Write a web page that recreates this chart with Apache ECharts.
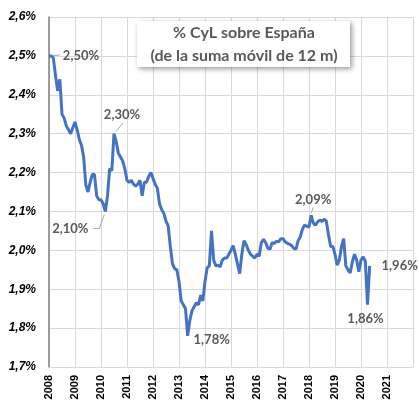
<!DOCTYPE html>
<html>
<head>
<meta charset="utf-8">
<script src="https://cdn.jsdelivr.net/npm/echarts@6/dist/echarts.min.js"></script>
<style>
  html, body { margin: 0; padding: 0; background: #fff; }
  #main { width: 419px; height: 411px; }
</style>
</head>
<body>
<div id="main"></div>
<script>
// datos mensuales (% CyL sobre España), enero 2008 - mayo 2020
const startYear = 2008
const v2008 = [2.50, 2.50, 2.495, 2.45, 2.41, 2.44, 2.35, 2.34, 2.32, 2.31, 2.30, 2.315]
const v2009 = [2.33, 2.31, 2.285, 2.27, 2.24, 2.168, 2.15, 2.175, 2.195, 2.195, 2.14, 2.13]
const v2010 = [2.13, 2.12, 2.10, 2.14, 2.21, 2.205, 2.30, 2.28, 2.25, 2.24, 2.23, 2.21]
const v2011 = [2.18, 2.175, 2.18, 2.17, 2.165, 2.17, 2.18, 2.14, 2.175, 2.175, 2.19, 2.20]
const v2012 = [2.185, 2.17, 2.16, 2.12, 2.105, 2.095, 2.075, 2.063, 2.01, 1.965, 1.953, 1.95]
const v2013 = [1.92, 1.87, 1.86, 1.85, 1.78, 1.82, 1.845, 1.855, 1.865, 1.86, 1.885, 1.87]
const v2014 = [1.92, 1.955, 1.96, 2.05, 1.975, 1.96, 1.962, 1.958, 1.975, 1.98, 1.98, 1.99]
const v2015 = [2.00, 2.012, 1.99, 1.965, 1.94, 1.99, 2.025, 2.015, 2.00, 1.99, 1.985, 1.98]
const v2016 = [1.99, 1.985, 2.02, 2.028, 2.02, 2.005, 2.003, 2.02, 2.018, 2.023, 2.022, 2.03]
const v2017 = [2.03, 2.022, 2.018, 2.016, 2.012, 2.005, 2.003, 2.025, 2.035, 2.055, 2.065, 2.062]
const v2018 = [2.06, 2.09, 2.07, 2.065, 2.073, 2.078, 2.074, 2.08, 2.075, 2.04, 2.01, 2.01]
const v2019 = [1.99, 1.962, 1.975, 2.01, 2.03, 1.96, 1.95, 1.942, 1.97, 1.99, 1.975, 1.945]
const v2020 = [1.975, 1.983, 1.972, 1.86, 1.96]

// ejes
const yTicks = [1.7, 1.8, 1.9, 2.0, 2.1, 2.2, 2.3, 2.4, 2.5, 2.6]
const xYears = [2008, 2009, 2010, 2011, 2012, 2013, 2014, 2015, 2016, 2017, 2018, 2019, 2020, 2021]

// puntos etiquetados (indice del mes)
const labelIdx = [0, 30, 26, 64, 121, 147, 148]

const titleLines = ["% CyL sobre España", "(de la suma móvil de 12 m)"]

const values = [].concat(v2008, v2009, v2010, v2011, v2012, v2013, v2014, v2015, v2016, v2017, v2018, v2019, v2020)
const seriesData = values.map((v, i) => [startYear + i / 12, v])

const fmtPct = (v, d) => v.toFixed(d).replace(".", ",") + "%"

var chart = echarts.init(document.getElementById("main"))
var option = {
  animation: false,
  grid: { left: 49, right: 6, top: 17, bottom: 44 },
  xAxis: {
    type: "value",
    min: xYears[0],
    max: xYears[xYears.length - 1] + 1,
    interval: 1,
    axisLine: { show: true, lineStyle: { color: "#d9d9d9" } },
    axisTick: { show: false },
    splitLine: { show: true, lineStyle: { color: "#d9d9d9", width: 1 } },
    axisLabel: {
      rotate: 90,
      margin: 8,
      color: "#000",
      fontSize: 11,
      fontWeight: "bold",
      fontFamily: "Liberation Sans, Arial, sans-serif",
      formatter: v => (xYears.indexOf(Math.round(v)) >= 0 ? String(Math.round(v)) : "")
    }
  },
  yAxis: {
    type: "value",
    min: yTicks[0],
    max: yTicks[yTicks.length - 1],
    interval: 0.1,
    axisLine: { show: true, lineStyle: { color: "#7f7f7f", width: 1.5 } },
    axisTick: { show: false },
    splitLine: { show: true, lineStyle: { color: "#d9d9d9", width: 1 } },
    axisLabel: {
      margin: 13,
      color: "#000",
      fontSize: 12,
      fontWeight: "bold",
      fontStyle: "italic",
      fontFamily: "Liberation Sans, Arial, sans-serif",
      formatter: v => fmtPct(v, 1)
    }
  },
  series: [
    {
      type: "line",
      data: seriesData,
      showSymbol: false,
      symbol: "none",
      lineStyle: { color: "#4472c4", width: 3 },
      z: 3
    }
  ]
}
chart.setOption(option)

// etiquetas y caja del titulo
const labelStyle = { fill: "#595959", font: "bold 13px Lato, Liberation Sans, sans-serif", align: "center", verticalAlign: "middle" }
// desplazamiento de cada etiqueta respecto a su punto y linea guia
const labelOffsets = {
  0: { dx: 32, dy: 0, lead: [[3, 0], [11, -1]] },
  30: { dx: 8, dy: -19, lead: [[2, -2], [9, -11]] },
  26: { dx: -35, dy: 17, lead: [[-1, 3], [-6, 17], [-12, 17]] },
  64: { dx: 24, dy: 4 },
  121: { dx: 2, dy: -16, lead: [[0, -2], [2, -8]] },
  147: { dx: -2, dy: 14 },
  148: { dx: 30, dy: 0 }
}
const graphics = []
labelIdx.forEach(i => {
  const p = chart.convertToPixel({ gridIndex: 0 }, seriesData[i])
  const o = labelOffsets[i]
  graphics.push({
    type: "text",
    x: p[0] + o.dx,
    y: p[1] + o.dy,
    style: Object.assign({ text: fmtPct(values[i], 2) }, labelStyle),
    z: 10
  })
  if (o.lead) {
    graphics.push({
      type: "polyline",
      shape: { points: o.lead.map(q => [p[0] + q[0], p[1] + q[1]]) },
      style: { stroke: "#a6a6a6", lineWidth: 1, fill: null },
      z: 9
    })
  }
})
graphics.push({
  type: "rect",
  shape: { x: 137, y: 21, width: 213, height: 46 },
  style: { fill: "#fff", shadowBlur: 5, shadowColor: "rgba(0,0,0,0.4)", shadowOffsetX: 2, shadowOffsetY: 2 },
  z: 20
})
titleLines.forEach((t, k) => {
  graphics.push({
    type: "text",
    x: 244,
    y: 33 + k * 23,
    style: { text: t, fill: "#595959", font: "bold 16px Lato, Liberation Sans, sans-serif", align: "center", verticalAlign: "middle" },
    z: 21
  })
})
chart.setOption({ graphic: graphics })
</script>
</body>
</html>
